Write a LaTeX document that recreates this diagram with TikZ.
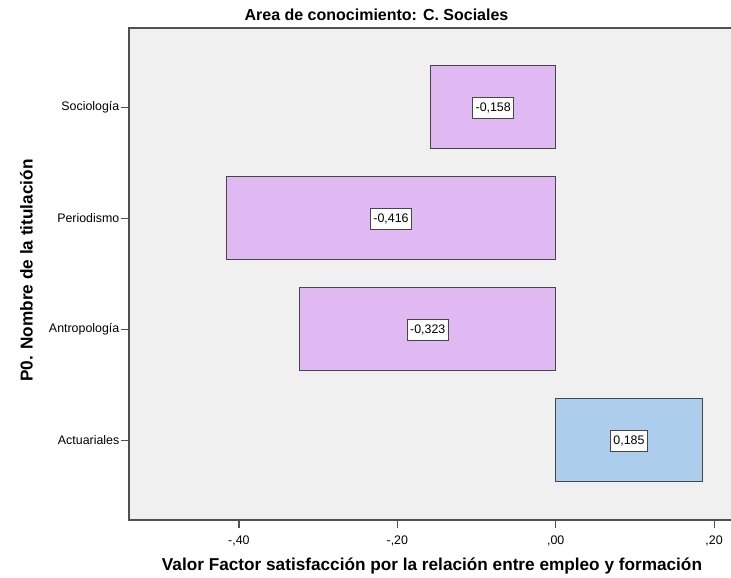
\documentclass[tikz,border=0pt]{standalone}
\usepackage{fontspec}
\setmainfont{Liberation Sans}
\definecolor{plotbg}{RGB}{240,240,240}
\definecolor{framec}{RGB}{80,80,80}
\definecolor{barpurple}{RGB}{224,185,243}
\definecolor{barblue}{RGB}{172,206,236}
\definecolor{barline}{RGB}{70,70,70}
\tikzset{
  ticklab/.style={font=\fontsize{12.4}{14}\selectfont, inner sep=0pt},
  catlab/.style={ticklab, anchor=east},
  vallab/.style={draw=barline, fill=white, line width=0.8pt, font=\fontsize{12.4}{14}\selectfont, inner xsep=3pt, inner ysep=0pt, minimum height=21pt},
  axtitle/.style={font=\bfseries\fontsize{17.2}{20}\selectfont, inner sep=0pt},
  barP/.style={draw=barline, fill=barpurple, line width=0.9pt},
  barB/.style={draw=barline, fill=barblue, line width=0.9pt},
  tickline/.style={draw=framec, line width=1.2pt}
}
\begin{document}
\begin{tikzpicture}[x=1pt,y=-1pt]
\useasboundingbox (0,0) rectangle (731,578);
\clip (0,0) rectangle (731,578);
% plot area
\fill[plotbg] (129,28) rectangle (740,520);
\draw[framec, line width=1.5pt] (740,28) -- (129,28) -- (129,520) -- (740,520);
% bars
\draw[barP] (430.7,65.8) rectangle (555.7,148.8);
\draw[barP] (226.2,176.8) rectangle (555.7,259.8);
\draw[barP] (299.9,287.8) rectangle (555.7,370.8);
\draw[barB] (555.7,398.8) rectangle (702.2,481.8);
% value labels
\node[vallab] (vsoc) at (493.2,108.3) {-0,158};
\node[vallab] (vper) at (391.0,219.3) {-0,416};
\node[vallab] (vant) at (427.8,330.3) {-0,323};
\node[vallab] (vact) at (629.0,441.3) {0,185};
% y ticks and category labels
\foreach \yy/\nm/\txt in {107.3/csoc/Sociología, 218.3/cper/Periodismo, 329.3/cant/Antropología, 440.3/cact/Actuariales}{
  \coordinate (t\nm) at (129,\yy);
  \node[catlab] (\nm) at (119.5,\yy) {\txt};
  \draw[tickline] (t\nm) -- ++(-8.5,0);
}
% x ticks and labels
\foreach \xx/\nm/\txt in {238.9/xa/{-,40}, 397.3/xb/{-,20}, 555.7/xc/{,00}, 714.1/xd/{,20}}{
  \coordinate (k\nm) at (\xx,520);
  \node[ticklab] (\nm) at (\xx,540.5) {\txt};
  \draw[tickline] (k\nm) -- ++(0,7.5);
}
% titles
\node[font=\bfseries\fontsize{16}{19}\selectfont, inner sep=0pt] (title) at (376.5,14.5) {Area de conocimiento: C. Sociales};
\node[axtitle] (xtitle) at (432,566) {Valor Factor satisfacción por la relación entre empleo y formación};
\node[axtitle, rotate=90] (ytitle) at (26.5,270.5) {P0. Nombre de la titulación};
\end{tikzpicture}
\end{document}
